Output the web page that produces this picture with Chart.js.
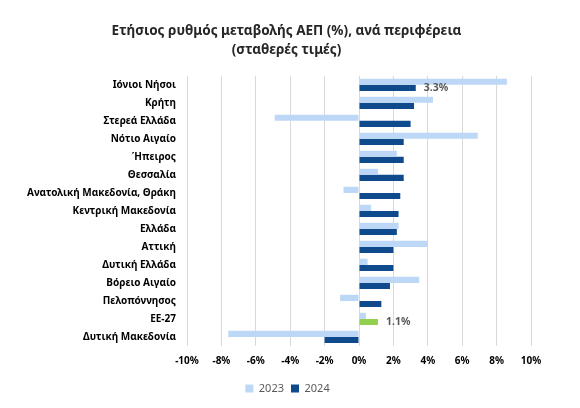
<!DOCTYPE html>
<html>
<head>
<meta charset="utf-8">
<script src="https://cdn.jsdelivr.net/npm/chart.js@4"></script>
<style>
  html, body { margin: 0; padding: 0; background: #fff; }
  #wrap { width: 580px; height: 408px; }
</style>
</head>
<body>
<div id="wrap"><canvas id="gdpChart"></canvas></div>
<script>
// Regions, top to bottom
const regions = [
    "Ιόνιοι Νήσοι", "Κρήτη", "Στερεά Ελλάδα", "Νότιο Αιγαίο", "Ήπειρος",
    "Θεσσαλία", "Ανατολική Μακεδονία, Θράκη", "Κεντρική Μακεδονία", "Ελλάδα",
    "Αττική", "Δυτική Ελλάδα", "Βόρειο Αιγαίο", "Πελοπόννησος", "ΕΕ-27",
    "Δυτική Μακεδονία"
];
// Annual GDP change (%)
const growth2023 = [8.6, 4.3, -4.9, 6.9, 2.2, 1.1, -0.9, 0.7, 2.3, 4.0, 0.5, 3.5, -1.1, 0.4, -7.6];
const growth2024 = [3.3, 3.2, 3.0, 2.6, 2.6, 2.6, 2.4, 2.3, 2.2, 2.0, 2.0, 1.8, 1.3, 1.1, -2.0];
// Bars that carry a value label
const labelled = ["Ιόνιοι Νήσοι", "ΕΕ-27"];
const tickValues = [-10, -8, -6, -4, -2, 0, 2, 4, 6, 8, 10];

const FONT = "'Noto Sans', sans-serif";
const barColors2024 = regions.map(r => r === "ΕΕ-27" ? "#92d050" : "#0e4a8c");

// Simple value labels at the end of selected 2024 bars
const valueLabels = {
    id: "valueLabels",
    afterLayout(chart) {
        // centre title and legend on the page rather than the padded box
        chart.legend.left += 17;
        chart.legend.right += 17;
        chart.titleBlock.left += 16;
        chart.titleBlock.right += 16;
    },
    afterDatasetsDraw(chart) {
        const ctx = chart.ctx;
        const meta = chart.getDatasetMeta(1);
        ctx.save();
        ctx.font = "bold 10.5px " + FONT;
        ctx.fillStyle = "#595959";
        ctx.textBaseline = "middle";
        ctx.textAlign = "left";
        regions.forEach((r, i) => {
            if (!labelled.includes(r)) return;
            const bar = meta.data[i];
            ctx.fillText(growth2024[i].toFixed(1) + "%", bar.x + 8, bar.y);
        });
        ctx.restore();
    }
};

new Chart(document.getElementById("gdpChart"), {
    type: "bar",
    data: {
        labels: regions,
        datasets: [{
            label: "2023",
            data: growth2023,
            backgroundColor: "#bcd8f6",
            categoryPercentage: 0.68,
            barPercentage: 1.0
        }, {
            label: "2024",
            data: growth2024,
            backgroundColor: barColors2024,
            categoryPercentage: 0.68,
            barPercentage: 1.0
        }]
    },
    options: {
        indexAxis: "y",
        responsive: true,
        maintainAspectRatio: false,
        animation: false,
        layout: { padding: { left: 10, right: 49, top: 0, bottom: 4 } },
        plugins: {
            title: {
                display: true,
                text: ["Ετήσιος ρυθμός μεταβολής ΑΕΠ (%), ανά περιφέρεια", "(σταθερές τιμές)"],
                color: "#262626",
                font: { family: FONT, size: 13.5, weight: "bold", lineHeight: 1.4 },
                padding: { top: 22, bottom: 16 }
            },
            legend: {
                position: "bottom",
                labels: {
                    boxWidth: 8,
                    boxHeight: 8,
                    padding: 7,
                    color: "#595959",
                    font: { family: FONT, size: 11 },
                    generateLabels: chart => chart.data.datasets.map((ds, i) => ({
                        text: ds.label,
                        fillStyle: i === 0 ? "#bcd8f6" : "#0e4a8c",
                        strokeStyle: "transparent",
                        lineWidth: 0,
                        fontColor: "#595959",
                        datasetIndex: i
                    }))
                }
            },
            tooltip: { enabled: false }
        },
        scales: {
            x: {
                min: -10,
                max: 10,
                afterBuildTicks: scale => { scale.ticks = tickValues.map(v => ({ value: v })); },
                ticks: {
                    color: "#000",
                    padding: 9,
                    font: { family: FONT, size: 10, weight: "bold" },
                    callback: v => v + "%"
                },
                grid: { color: "#d9d9d9", drawTicks: false },
                border: { display: false }
            },
            y: {
                afterFit: scale => { scale.width = 177; },
                ticks: {
                    color: "#000",
                    padding: 3,
                    font: { family: FONT, size: 10, weight: "bold" }
                },
                grid: { display: false },
                border: { display: false }
            }
        }
    },
    plugins: [valueLabels]
});
</script>
</body>
</html>
